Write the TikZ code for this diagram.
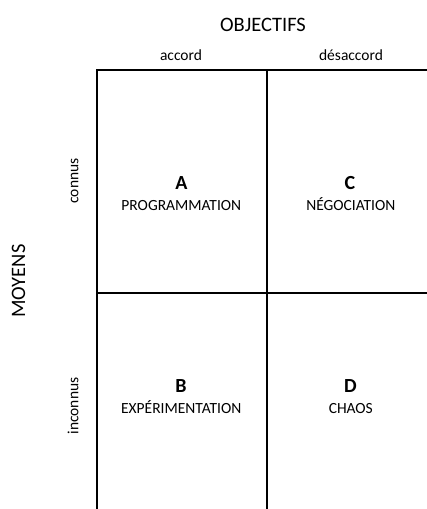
\documentclass[tikz,border=0pt]{standalone}
\usepackage{fontspec}
\setmainfont{Carlito}
\begin{document}
\begin{tikzpicture}[x=1pt,y=-1pt,
  grid/.style={line width=2pt,line cap=rect},
  lbl/.style={inner sep=0pt,font=\fontsize{15.5}{18}\selectfont},
  big/.style={inner sep=0pt,font=\fontsize{20.5}{24}\selectfont},
  letter/.style={inner sep=0pt,font=\fontsize{20}{24}\selectfont\bfseries}]
\useasboundingbox (0,0) rectangle (427,509);
% grid
\coordinate (tl) at (97,70);
\coordinate (tm) at (267,70);
\coordinate (tr) at (427,70);
\coordinate (ml) at (97,293);
\coordinate (mr) at (427,293);
\coordinate (bl) at (97,512);
\coordinate (bm) at (267,512);
\draw[grid] (tr) -- (tl) -- (bl);
\draw[grid] (tm) -- (bm);
\draw[grid] (ml) -- (mr);
% headers
\node[big,anchor=base] (obj) at (263,31.7) {OBJECTIFS};
\node[lbl,anchor=base] (acc) at (181,60.7) {accord};
\node[lbl,anchor=base] (des) at (351,60.7) {désaccord};
\node[big,anchor=base,rotate=90] (moy) at (25,281) {MOYENS};
\node[lbl,anchor=base,rotate=90] (con) at (78.3,181) {connus};
\node[lbl,anchor=base,rotate=90] (inc) at (78.3,406) {inconnus};
% cells
\node[letter,anchor=base] (A) at (181.5,189.3) {A};
\node[lbl,anchor=base] (Al) at (181.3,210) {PROGRAMMATION};
\node[letter,anchor=base] (C) at (350,189.3) {C};
\node[lbl,anchor=base] (Cl) at (350.8,210) {NÉGOCIATION};
\node[letter,anchor=base] (B) at (181,392.3) {B};
\node[lbl,anchor=base] (Bl) at (181.2,413.3) {EXPÉRIMENTATION};
\node[letter,anchor=base] (D) at (350.5,392.3) {D};
\node[lbl,anchor=base] (Dl) at (350.8,413.3) {CHAOS};
\end{tikzpicture}
\end{document}
